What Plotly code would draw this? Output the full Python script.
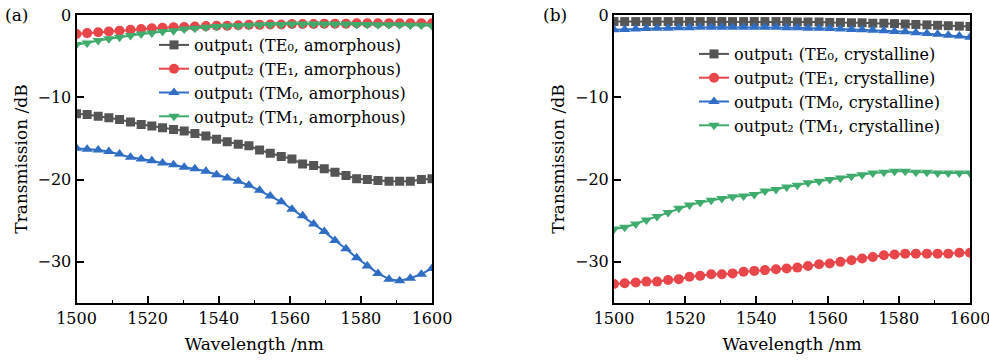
import plotly.graph_objects as go

# Wavelength grid (nm), 34 samples between 1500 and 1600
wavelength = [1500.0, 1503.0, 1506.1, 1509.1, 1512.1, 1515.2, 1518.2, 1521.2, 1524.2, 1527.3,
              1530.3, 1533.3, 1536.4, 1539.4, 1542.4, 1545.5, 1548.5, 1551.5, 1554.5, 1557.6,
              1560.6, 1563.6, 1566.7, 1569.7, 1572.7, 1575.8, 1578.8, 1581.8, 1584.8, 1587.9,
              1590.9, 1593.9, 1597.0, 1600.0]

# Panel (a): amorphous
a_te0 = [-12.0, -12.1, -12.3, -12.5, -12.7, -13.0, -13.3, -13.5, -13.7, -13.9,
         -14.1, -14.4, -14.7, -15.1, -15.4, -15.7, -15.9, -16.4, -16.8, -17.2,
         -17.5, -18.1, -18.3, -18.7, -19.1, -19.5, -19.9, -20.0, -20.1, -20.2,
         -20.2, -20.2, -20.0, -19.9]
a_te1 = [-2.3, -2.2, -2.1, -2.0, -1.9, -1.8, -1.7, -1.6, -1.55, -1.5,
         -1.45, -1.4, -1.35, -1.3, -1.3, -1.25, -1.2, -1.2, -1.15, -1.15,
         -1.1, -1.1, -1.1, -1.05, -1.05, -1.05, -1.0, -1.0, -1.0, -1.0,
         -1.0, -1.0, -1.0, -1.0]
a_tm0 = [-16.2, -16.3, -16.4, -16.6, -16.9, -17.3, -17.5, -17.7, -18.0, -18.2,
         -18.5, -18.7, -19.0, -19.4, -19.8, -20.2, -20.7, -21.3, -22.0, -22.7,
         -23.6, -24.4, -25.4, -26.3, -27.4, -28.4, -29.5, -30.5, -31.4, -32.1,
         -32.3, -32.0, -31.5, -30.8]
a_tm1 = [-3.6, -3.4, -3.1, -2.9, -2.7, -2.5, -2.3, -2.2, -2.0, -1.9,
         -1.7, -1.6, -1.5, -1.4, -1.35, -1.3, -1.25, -1.2, -1.15, -1.15,
         -1.1, -1.1, -1.1, -1.1, -1.1, -1.1, -1.15, -1.15, -1.2, -1.2,
         -1.2, -1.25, -1.25, -1.3]

# Panel (b): crystalline
b_te0 = [-0.8, -0.8, -0.8, -0.8, -0.8, -0.8, -0.8, -0.8, -0.8, -0.8,
         -0.8, -0.8, -0.8, -0.8, -0.8, -0.8, -0.8, -0.85, -0.85, -0.85,
         -0.9, -0.9, -0.95, -0.95, -1.0, -1.0, -1.05, -1.1, -1.15, -1.2,
         -1.25, -1.3, -1.35, -1.4]
b_te1 = [-32.7, -32.6, -32.5, -32.4, -32.4, -32.2, -32.1, -31.8, -31.7, -31.5,
         -31.5, -31.4, -31.2, -31.1, -31.0, -30.9, -30.8, -30.7, -30.5, -30.3,
         -30.2, -30.0, -29.8, -29.6, -29.4, -29.2, -29.1, -29.0, -29.0, -29.0,
         -29.0, -29.0, -28.9, -28.9]
b_tm0 = [-1.8, -1.75, -1.7, -1.65, -1.6, -1.6, -1.55, -1.55, -1.5, -1.5,
         -1.5, -1.5, -1.5, -1.5, -1.5, -1.5, -1.55, -1.55, -1.6, -1.6,
         -1.65, -1.7, -1.75, -1.8, -1.85, -1.9, -2.0, -2.05, -2.15, -2.25,
         -2.35, -2.45, -2.55, -2.7]
b_tm1 = [-26.0, -25.8, -25.4, -24.9, -24.5, -24.0, -23.5, -23.1, -22.8, -22.5,
         -22.3, -22.1, -22.0, -21.8, -21.4, -21.2, -20.9, -20.7, -20.4, -20.2,
         -20.0, -19.8, -19.6, -19.4, -19.2, -19.1, -19.0, -19.0, -19.1, -19.1,
         -19.2, -19.2, -19.2, -19.2]

x_ticks = [1500, 1520, 1540, 1560, 1580, 1600]
y_ticks = [0, -10, -20, -30]

names_a = ["output₁ (TE₀, amorphous)",
           "output₂ (TE₁, amorphous)",
           "output₁ (TM₀, amorphous)",
           "output₂ (TM₁, amorphous)"]
names_b = ["output₁ (TE₀, crystalline)",
           "output₂ (TE₁, crystalline)",
           "output₁ (TM₀, crystalline)",
           "output₂ (TM₁, crystalline)"]

colors = ["#555555", "#e8464a", "#2f6ec4", "#3fab6c"]
symbols = ["square", "circle", "triangle-up", "triangle-down"]
msizes = [9, 10, 10, 10]

FONT = "DejaVu Serif"

fig = go.Figure()

for i, ys in enumerate([a_te0, a_te1, a_tm0, a_tm1]):
    fig.add_trace(go.Scatter(
        x=wavelength, y=ys, name=names_a[i], mode="lines+markers",
        line=dict(color=colors[i], width=2),
        marker=dict(symbol=symbols[i], size=msizes[i], color=colors[i]),
        xaxis="x", yaxis="y", legend="legend"))

for i, ys in enumerate([b_te0, b_te1, b_tm0, b_tm1]):
    fig.add_trace(go.Scatter(
        x=wavelength, y=ys, name=names_b[i], mode="lines+markers",
        line=dict(color=colors[i], width=2),
        marker=dict(symbol=symbols[i], size=msizes[i], color=colors[i]),
        xaxis="x2", yaxis="y2", legend="legend2"))

# Body margin is removed in the page, so figure pixels equal page pixels.
W, H = 989, 360


def px(x):
    return x / W


def py(y):
    return 1 - y / H


ydom = [py(303), py(15)]

axis_common = dict(
    showline=True, linecolor="black", linewidth=2, mirror=True,
    ticks="inside", ticklen=7, tickwidth=1.5, tickcolor="black",
    showgrid=False, zeroline=False, automargin=False,
    ticklabeloverflow="allow",
    tickfont=dict(family=FONT, size=16, color="black"),
)

xcommon = dict(axis_common, range=[1500, 1600], tickvals=x_ticks,
               minor=dict(ticks="inside", ticklen=3, tickwidth=1, tickcolor="black", dtick=10),
               title=dict(text="Wavelength /nm", font=dict(family=FONT, size=17, color="black"),
                          standoff=11))
ycommon = dict(axis_common, range=[-35, 0], tickvals=y_ticks,
               title=dict(text="Transmission /dB", font=dict(family=FONT, size=17, color="black"),
                          standoff=6))

LEGFONT = dict(family=FONT, size=16, color="black")

fig.update_layout(
    width=W, height=H,
    margin=dict(l=0, r=0, t=0, b=0, autoexpand=False),
    paper_bgcolor="white", plot_bgcolor="white",
    showlegend=True,
    xaxis=dict(xcommon, domain=[px(76.5), px(432)], anchor="y"),
    yaxis=dict(ycommon, domain=ydom, anchor="x"),
    xaxis2=dict(xcommon, domain=[px(614), px(970)], anchor="y2"),
    yaxis2=dict(ycommon, domain=ydom, anchor="x2"),
    legend=dict(x=px(154), y=py(28), xanchor="left", yanchor="top", xref="paper", yref="paper",
                bgcolor="rgba(0,0,0,0)", font=LEGFONT, itemwidth=30, tracegroupgap=0),
    legend2=dict(x=px(694), y=py(37), xanchor="left", yanchor="top", xref="paper", yref="paper",
                 bgcolor="rgba(0,0,0,0)", font=LEGFONT, itemwidth=30, tracegroupgap=0),
    annotations=[
        dict(text="(a)", x=px(3), y=py(15), xref="paper", yref="paper",
             xanchor="left", yanchor="middle", showarrow=False,
             font=dict(family=FONT, size=17, color="black")),
        dict(text="(b)", x=px(541), y=py(15), xref="paper", yref="paper",
             xanchor="left", yanchor="middle", showarrow=False,
             font=dict(family=FONT, size=17, color="black")),
    ],
)

fig.write_html("out.html", config={"displayModeBar": False},
               post_script="document.body.style.margin = '0px';")
